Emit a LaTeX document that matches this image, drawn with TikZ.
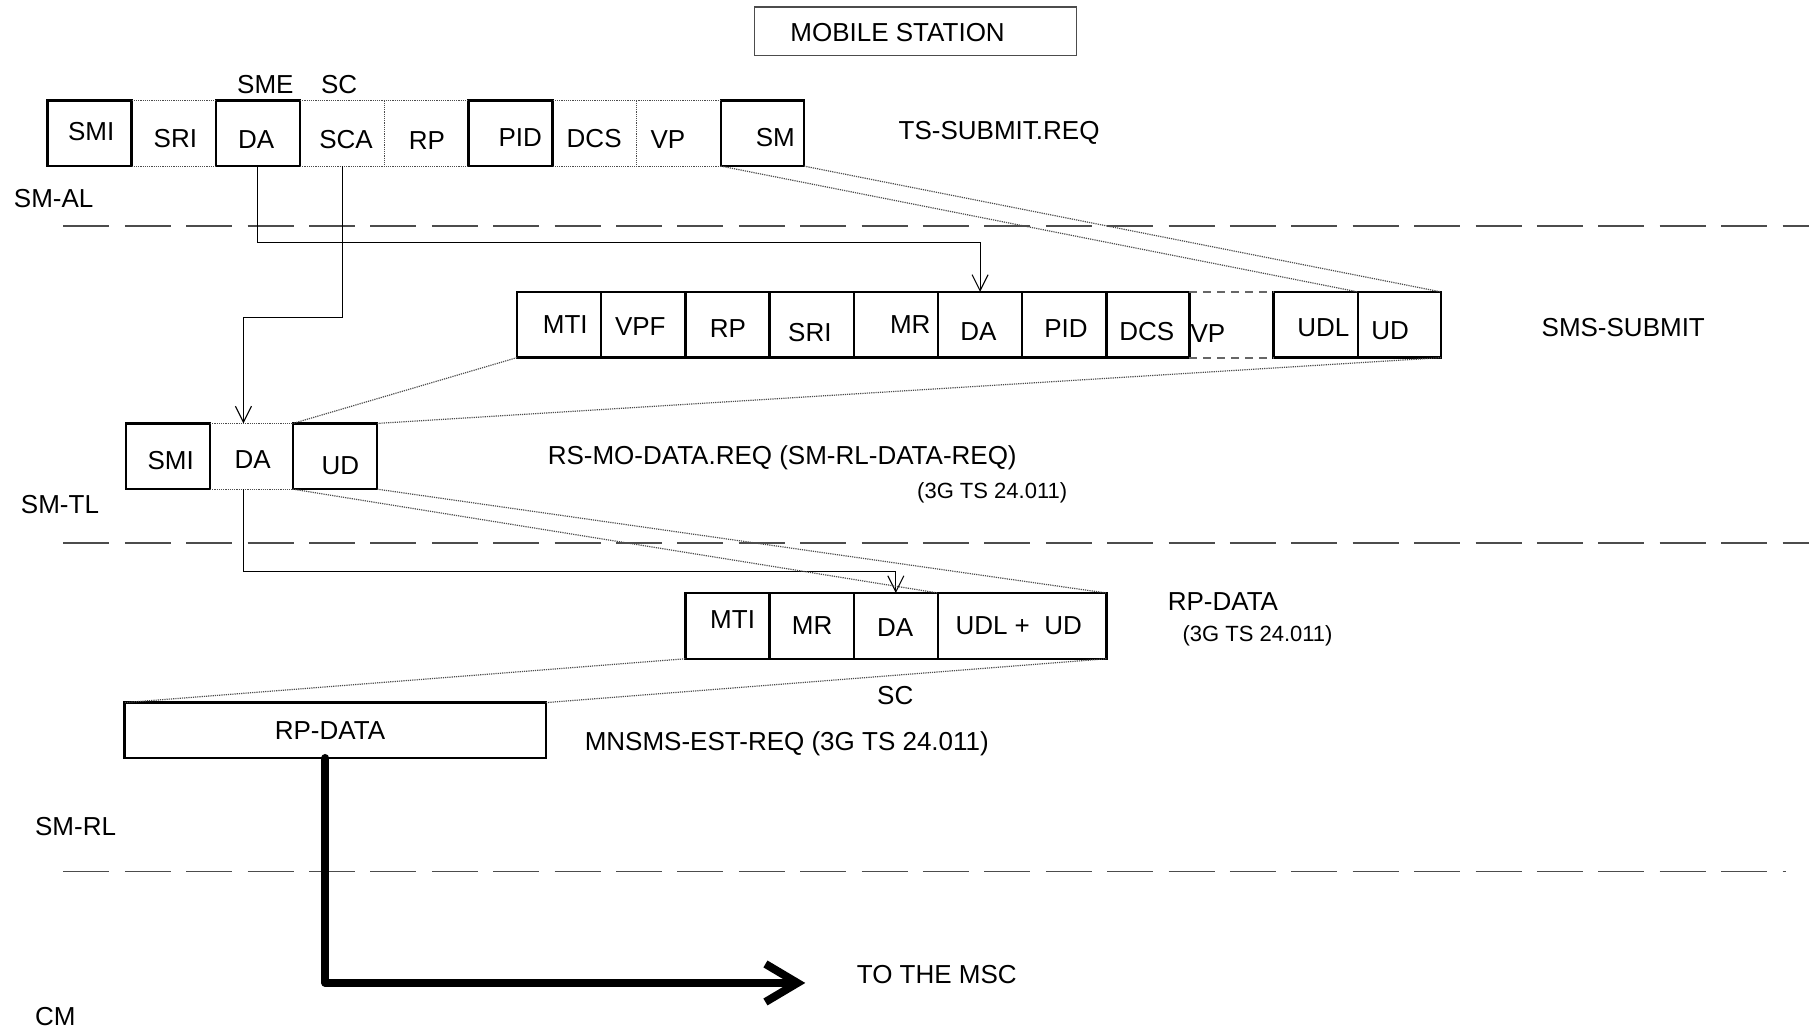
\documentclass[tikz,border=0pt]{standalone}
\usepackage{fontspec}
\setmainfont{Liberation Sans}
\usetikzlibrary{arrows.meta,fit,calc}
\newcommand\cellnode[6]{\node[#6, fit={(#2,#3) (#4,#5)}] (#1) {};}
\begin{document}
\begin{tikzpicture}[x=0.5769pt,y=-0.5769pt,
  every node/.style={inner sep=0pt, outer sep=0pt},
  txt/.style={font=\fontsize{13pt}{15pt}\selectfont},
  small/.style={font=\fontsize{11pt}{13pt}\selectfont},
  fbox/.style={draw, line width=1.2pt},
  ebox/.style={},
  dotln/.style={draw=black!70, line width=0.6pt, dash pattern=on 0.6pt off 0.5pt},
  sepln/.style={draw=black!70, line width=0.7pt, dash pattern=on 23pt off 7.7pt},
  vpdash/.style={draw=black!60, line width=0.9pt, dash pattern=on 4pt off 3pt},
  arrln/.style={draw, line width=0.55pt, -{Straight Barb[length=8pt,width=8pt]}},
  bigarr/.style={draw, line width=4pt, line cap=round, line join=round, -{Straight Barb[length=16pt,width=19pt]}},
]
\useasboundingbox (0,0) rectangle (1568,893.6);

% MOBILE STATION
\cellnode{ms}{654}{6}{933}{48}{draw=black!70, line width=0.7pt}
\node[txt] (mst) at (778,28.5) {MOBILE STATION};

% ---------- TS-SUBMIT.REQ row ----------
\cellnode{tSMI}{41}{87}{114}{144}{fbox}
\cellnode{tSRI}{114}{87}{187}{144}{ebox}
\cellnode{tDA}{187}{87}{260}{144}{fbox}
\cellnode{tSCA}{260}{87}{333}{144}{ebox}
\cellnode{tRP}{333}{87}{406}{144}{ebox}
\cellnode{tPID}{406}{87}{479}{144}{fbox}
\cellnode{tDCS}{479}{87}{552}{144}{ebox}
\cellnode{tVP}{552}{87}{625}{144}{ebox}
\cellnode{tSM}{625}{87}{697}{144}{fbox}
\draw[dotln] (tSRI.north west) -- (tSRI.north east) (tSRI.south west) -- (tSRI.south east);
\draw[dotln] (tSCA.north west) -- (tRP.north east) (tSCA.south west) -- (tRP.south east);
\draw[dotln] (tDCS.north west) -- (tVP.north east) (tDCS.south west) -- (tVP.south east);
\draw[dotln] (tRP.north west) -- (tRP.south west) (tVP.north west) -- (tVP.south west);

\node[txt] (tSMIt) at (79,114) {SMI};
\node[txt] (tSRIt) at (152,120) {SRI};
\node[txt] (tDAt) at (222,121) {DA};
\node[txt] (tSCAt) at (300,121) {SCA};
\node[txt] (tRPt) at (370,122) {RP};
\node[txt] (tPIDt) at (451,119) {PID};
\node[txt] (tDCSt) at (515,120) {DCS};
\node[txt] (tVPt) at (579,121) {VP};
\node[txt] (tSMt) at (672,119) {SM};
\node[txt] (sme) at (230,73) {SME};
\node[txt] (sc1) at (294,73) {SC};
\node[txt] (tsreq) at (866,115) {TS-SUBMIT.REQ};
\node[txt] (smal) at (46.5,172) {SM-AL};

% ---------- SMS-SUBMIT row ----------
\cellnode{sMTI}{448}{253}{521}{310}{fbox}
\cellnode{sVPF}{521}{253}{594}{310}{fbox}
\cellnode{sRP}{594}{253}{667}{310}{fbox}
\cellnode{sSRI}{667}{253}{740}{310}{fbox}
\cellnode{sMR}{740}{253}{813}{310}{fbox}
\cellnode{sDA}{813}{253}{886}{310}{fbox}
\cellnode{sPID}{886}{253}{959}{310}{fbox}
\cellnode{sDCS}{959}{253}{1031}{310}{fbox}
\cellnode{sVP}{1031}{253}{1104}{310}{ebox}
\cellnode{sUDL}{1104}{253}{1177}{310}{fbox}
\cellnode{sUD}{1177}{253}{1249}{310}{fbox}
\draw[vpdash] (sVP.north west) -- (sVP.north east) (sVP.south west) -- (sVP.south east);

\node[txt] (sMTIt) at (490,281) {MTI};
\node[txt] (sVPFt) at (555,283) {VPF};
\node[txt] (sRPt) at (631,285) {RP};
\node[txt] (sSRIt) at (702,288) {SRI};
\node[txt] (sMRt) at (789,281) {MR};
\node[txt] (sDAt) at (848,287) {DA};
\node[txt] (sPIDt) at (924,285) {PID};
\node[txt] (sDCSt) at (994,287) {DCS};
\node[txt] (sVPt) at (1047,289) {VP};
\node[txt] (sUDLt) at (1147,284) {UDL};
\node[txt] (sUDt) at (1205,287) {UD};
\node[txt] (smssub) at (1407,284) {SMS-SUBMIT};

% ---------- SM-TL row ----------
\cellnode{mSMI}{109}{367}{182}{424}{fbox}
\cellnode{mDA}{182}{367}{254}{424}{ebox}
\cellnode{mUD}{254}{367}{327}{424}{fbox}
\draw[dotln] (mDA.north west) -- (mDA.north east) (mDA.south west) -- (mDA.south east);
\node[txt] (mSMIt) at (148,399) {SMI};
\node[txt] (mDAt) at (219,398) {DA};
\node[txt] (mUDt) at (295,404) {UD};
\node[txt] (rsmo) at (678,397) {RS-MO-DATA.REQ (SM-RL-DATA-REQ)};
\node[small] (rsmo2) at (860,427) {(3G TS 24.011)};
\node[txt] (smtl) at (52,437) {SM-TL};

% ---------- RP-DATA row ----------
\cellnode{rMTI}{594}{514}{667}{571}{fbox}
\cellnode{rMR}{667}{514}{740}{571}{fbox}
\cellnode{rDA}{740}{514}{813}{571}{fbox}
\cellnode{rUD}{813}{514}{959}{571}{fbox}
\node[txt] (rMTIt) at (635,537) {MTI};
\node[txt] (rMRt) at (704,542) {MR};
\node[txt] (rDAt) at (776,544) {DA};
\node[txt] (rUDt) at (883,542) {UDL +\ \ UD};
\node[txt] (rpd) at (1060,521) {RP-DATA};
\node[small] (rpd2) at (1090,551) {(3G TS 24.011)};
\node[txt] (sc2) at (776,603) {SC};

% ---------- RP-DATA box ----------
\cellnode{rp}{108}{609}{473}{657}{fbox}
\node[txt] (rpt) at (286,633) {RP-DATA};
\node[txt] (mnsms) at (682,645) {MNSMS-EST-REQ (3G TS 24.011)};
\node[txt] (smrl) at (65.5,716) {SM-RL};
\node[txt] (msc) at (812,845) {TO THE MSC};
\node[txt] (cm) at (48,881) {CM};

% ---------- layer separators ----------
\draw[sepln] (55,196) -- (1568,196);
\draw[sepln] (55,470.5) -- (1568,470.5);
\draw[sepln] (55,755.5) -- (1548,755.5);

% ---------- arrows ----------
\coordinate (j1) at (0,210);
\coordinate (j2) at (211,275);
\coordinate (j3) at (0,495);
\draw[arrln] (tDA.south) -- (tDA.south |- j1) -| (sDA.north);
\draw[arrln] (tSCA.south) |- (j2) -- (j2 |- mDA.north);
\draw[arrln] (j2 |- mDA.south) -- (j2 |- j3) -| (rDA.north);

% ---------- mapping lines ----------
\draw[dotln] (tSM.south west) -- (sUD.north west);
\draw[dotln] (tSM.south east) -- (sUD.north east);
\draw[dotln] (sMTI.south west) -- (mUD.north west);
\draw[dotln] (sUD.south east) -- (mUD.north east);
\draw[dotln] (mUD.south west) -- (rUD.north west);
\draw[dotln] (mUD.south east) -- (rUD.north east);
\draw[dotln] (rMTI.south west) -- (rp.north west);
\draw[dotln] (rUD.south east) -- (rp.north east);

% ---------- thick arrow ----------
\coordinate (k1) at (282,852);
\coordinate (k2) at (698,852);
\draw[bigarr] (rp.south -| k1) -- (k1) -- (k2);
\end{tikzpicture}
\end{document}
